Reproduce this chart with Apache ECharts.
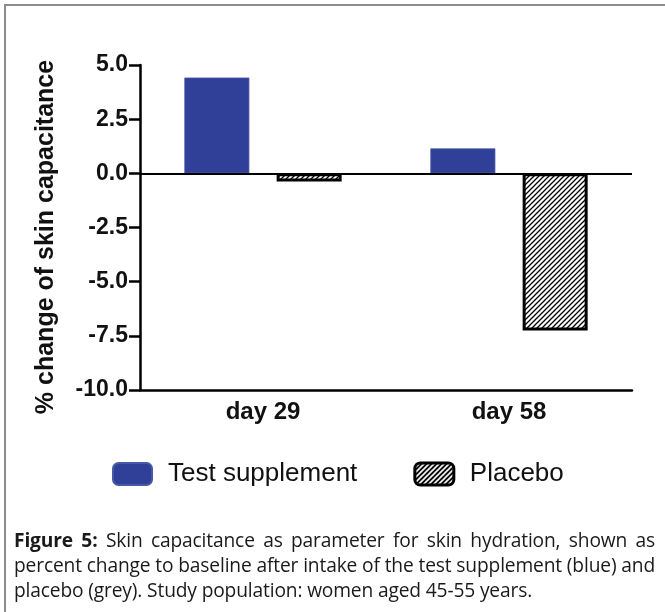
<!DOCTYPE html>
<html>
<head>
<meta charset="utf-8">
<script src="https://cdn.jsdelivr.net/npm/echarts@6/dist/echarts.min.js"></script>
<style>
  html, body { margin: 0; padding: 0; background: #fff; }
  #frame { position: absolute; left: 0; top: 0; width: 665px; height: 612px; overflow: hidden; }
  #frame .bt { position: absolute; left: 4px; top: 4px; width: 661px; height: 2px; background: #8c8c8c; }
  #frame .bl { position: absolute; left: 4px; top: 4px; width: 2px; height: 608px; background: #8c8c8c; }
  #chart { position: absolute; left: 0; top: 0; width: 665px; height: 612px; }
  #caption { position: absolute; left: 14px; top: 527px; width: 641px; font-family: "Open Sans", "Noto Sans", sans-serif; font-size: 19.2px; line-height: 25px; color: #1a1a1a; letter-spacing: -0.15px; }
  #caption div { white-space: nowrap; }
</style>
</head>
<body>
<div id="frame">
  <div id="chart"></div>
  <div class="bt"></div>
  <div class="bl"></div>
  <div id="caption"></div>
</div>
<script>
const categories = ['day 29', 'day 58'];
const testSupplement = [4.42, 1.15];
const placebo = [-0.38, -7.25];
const yTicks = { min: -10, max: 5, interval: 2.5 };
const seriesNames = ['Test supplement', 'Placebo'];
const yTitle = '% change of skin capacitance';
const captionLines = [
  ['<b>Figure 5:</b> Skin capacitance as parameter for skin hydration, shown as', true],
  ['percent change to baseline after intake of the test supplement (blue) and', true],
  ['placebo (grey). Study population: women aged 45-55 years.', false]
];

// caption (justified lines)
const cap = document.getElementById('caption');
captionLines.forEach(([html, justify]) => {
  const d = document.createElement('div');
  d.innerHTML = html;
  cap.appendChild(d);
  if (justify) {
    const span = document.createElement('span');
    span.innerHTML = html;
    span.style.whiteSpace = 'nowrap';
    span.style.visibility = 'hidden';
    span.style.position = 'absolute';
    cap.appendChild(span);
    const w = span.getBoundingClientRect().width;
    cap.removeChild(span);
    const spaces = (d.textContent.match(/ /g) || []).length;
    d.style.wordSpacing = ((641 - w) / spaces) + 'px';
  }
});

// hatch patterns
function makeTile(bg, fg, lw) {
  const t = document.createElement('canvas');
  t.width = 5; t.height = 5;
  const c = t.getContext('2d');
  c.fillStyle = bg; c.fillRect(0, 0, 5, 5);
  c.strokeStyle = fg; c.lineWidth = lw;
  c.beginPath();
  c.moveTo(-1, 6); c.lineTo(6, -1);
  c.moveTo(-1, 1); c.lineTo(1, -1);
  c.moveTo(4, 6); c.lineTo(6, 4);
  c.stroke();
  return t;
}
const tile = makeTile('#fff', '#000', 1.3);
const tileInv = makeTile('#000', '#fff', 1.6);

const chart = echarts.init(document.getElementById('chart'), null, { renderer: 'canvas' });
const boldFont = '"Liberation Sans", Arial, sans-serif';
chart.setOption({
  animation: false,
  backgroundColor: '#fff',
  grid: { left: 140, top: 65, right: 33, bottom: 222, containLabel: false },
  legend: {
    left: 112, top: 461, padding: 0,
    itemWidth: 39, itemHeight: 22, itemGap: 56,
    icon: 'roundRect',
    data: [
      { name: seriesNames[0] },
      { name: seriesNames[1], itemStyle: { color: { image: tileInv, repeat: 'repeat' }, borderColor: '#000', borderWidth: 3 } }
    ],
    textStyle: { fontFamily: boldFont, fontSize: 26, color: '#111', padding: [0, 0, 0, 11] }
  },
  xAxis: {
    type: 'category',
    data: categories,
    axisLine: { onZero: false, lineStyle: { color: '#000', width: 2.5 } },
    axisTick: { alignWithLabel: true, length: 10, lineStyle: { color: '#000', width: 2.5 } },
    axisLabel: { margin: 10, fontFamily: boldFont, fontWeight: 'bold', fontSize: 24, color: '#111' }
  },
  yAxis: {
    type: 'value',
    min: yTicks.min, max: yTicks.max, interval: yTicks.interval,
    axisLine: { show: true, lineStyle: { color: '#000', width: 2.5 } },
    axisTick: { show: true, inside: false, length: 11, lineStyle: { color: '#000', width: 2.5 } },
    splitLine: { show: false },
    axisLabel: { margin: 12, fontFamily: boldFont, fontWeight: 'bold', fontSize: 23, color: '#111',
      formatter: v => v.toFixed(1) }
  },
  graphic: [{
    type: 'text', x: 46, y: 237, rotation: Math.PI / 2,
    style: { text: yTitle, fontFamily: boldFont, fontWeight: 'bold', fontSize: 25, fill: '#111',
      align: 'center', verticalAlign: 'middle' }
  }],
  series: [
    {
      name: seriesNames[0], type: 'bar', data: testSupplement,
      barWidth: 65, barGap: '42%',
      itemStyle: { color: '#303f98', borderColor: '#4a58a8', borderWidth: 0.8 },
      markLine: {
        silent: true, symbol: 'none', label: { show: false },
        lineStyle: { color: '#000', width: 2, type: 'solid' },
        data: [{ yAxis: 0 }]
      }
    },
    {
      name: seriesNames[1], type: 'bar', data: placebo,
      barWidth: 65,
      itemStyle: { color: { image: tile, repeat: 'repeat' }, borderColor: '#000', borderWidth: 3 }
    }
  ]
});
</script>
</body>
</html>
